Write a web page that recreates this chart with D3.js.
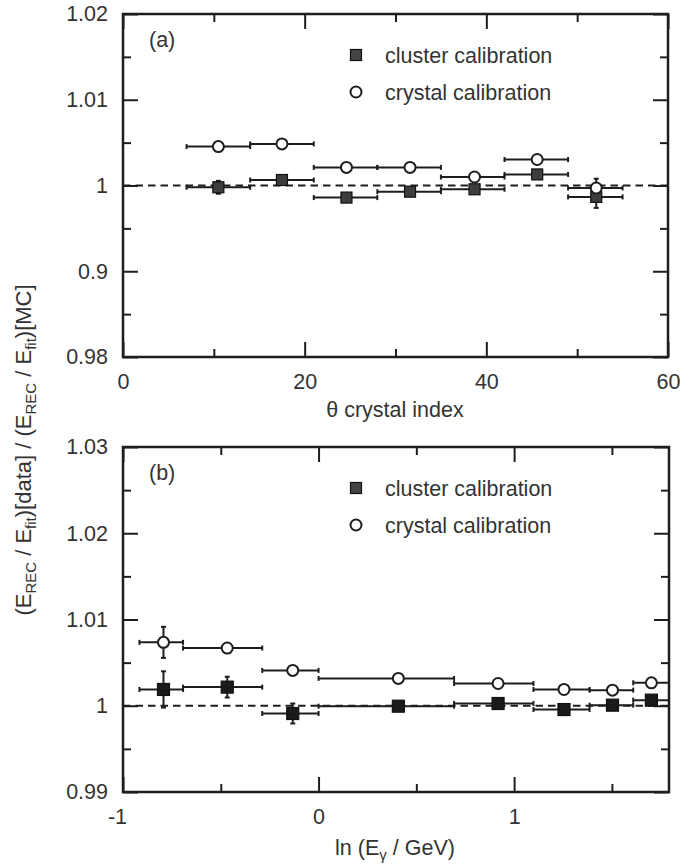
<!DOCTYPE html>
<html><head><meta charset="utf-8">
<script src="https://cdn.jsdelivr.net/npm/d3@7"></script>
<style>
body{margin:0;background:#fff}
text{font-family:"Liberation Sans",Arial,Helvetica,sans-serif;fill:#333}
</style></head><body>
<svg id="c" width="697" height="867"></svg>
<script>
// ---------- Panel (a): theta crystal index ----------
const thetaBinLo = [7, 14, 21, 28, 35, 42, 49];
const thetaBinHi = [14, 21, 28, 35, 42, 49, 55];
const thetaX     = [10.5, 17.5, 24.6, 31.6, 38.7, 45.6, 52.1];
const aCrystal    = [1.00454, 1.00485, 1.00211, 1.00211, 1.00099, 1.00303, 0.99971];
const aCrystalErr = [0.0003, 0.0003, 0.0003, 0.0003, 0.0003, 0.0003, 0.00108];
const aCluster    = [0.99979, 1.00064, 0.99859, 0.99928, 0.99956, 1.00129, 0.99867];
const aClusterErr = [0.00075, 0.0004, 0.0003, 0.0003, 0.0003, 0.0005, 0.00128];
const aXMajor = [0, 20, 40, 60];
const aXMinor = [10, 30, 50];
const aYMajor = [0.98, 0.99, 1.00, 1.01, 1.02];
const aYLabels = ["0.98", "0.9", "1", "1.01", "1.02"];
const aYMinor = [0.985, 0.995, 1.005, 1.015];

// ---------- Panel (b): ln(E_gamma / GeV) ----------
const lnBinLo = [-0.916, -0.693, -0.288, 0.000, 0.693, 1.099, 1.386, 1.609];
const lnBinHi = [-0.693, -0.288, 0.000, 0.693, 1.099, 1.386, 1.609, 1.792];
const lnX     = [-0.793, -0.467, -0.132, 0.408, 0.918, 1.255, 1.503, 1.702];
const bCrystal    = [1.00735, 1.00669, 1.00410, 1.00317, 1.00258, 1.00189, 1.00181, 1.00266];
const bCrystalErr = [0.0018, 0.0003, 0.0003, 0.0002, 0.0002, 0.0002, 0.0002, 0.0002];
const bCluster    = [1.00189, 1.00216, 0.99910, 0.99995, 1.00026, 0.99956, 1.00007, 1.00065];
const bClusterErr = [0.0021, 0.0012, 0.00116, 0.0002, 0.0002, 0.0002, 0.0002, 0.0002];
const bXMajor = [-1, 0, 1];
const bXLabels = ["-1", "0", "1"];
const bXMinor = [-0.5, 0.5, 1.5];
const bYMajor = [0.99, 1.00, 1.01, 1.02, 1.03];
const bYLabels = ["0.99", "1", "1.01", "1.02", "1.03"];
const bYMinor = [0.995, 1.005, 1.015, 1.025];

const legendLabels = ["cluster calibration", "crystal calibration"];

const svg = d3.select("#c");
const INK = "#1e1e1e";
const FS = 21.5;

function drawPanel(p) {
  const x = d3.scaleLinear().domain(p.xDomain).range([p.left, p.right]);
  const y = d3.scaleLinear().domain(p.yDomain).range([p.bottom, p.top]);
  const g = svg.append("g");
  const W = p.right - p.left, H = p.bottom - p.top;

  // dashed reference line at 1
  g.append("line")
    .attr("x1", p.left).attr("x2", p.right)
    .attr("y1", y(1)).attr("y2", y(1))
    .attr("stroke", INK).attr("stroke-width", 2)
    .attr("stroke-dasharray", "7.5,5");

  function axis(gen, tr, vals, size, fmt, pad) {
    const a = g.append("g").attr("transform", tr)
      .call(gen.tickValues(vals).tickSize(size).tickPadding(pad).tickFormat(fmt));
    a.select(".domain").remove();
    a.selectAll("line").attr("stroke", INK).attr("stroke-width", 2);
    a.selectAll("text").attr("font-size", FS).attr("fill", "#333")
      .attr("font-family", '"Liberation Sans",Arial,sans-serif');
    return a;
  }
  const none = () => "";
  const MJ = 15, MN = 8;
  // bottom
  const bx = axis(d3.axisBottom(x), `translate(0,${p.bottom})`, p.xMajor, -MJ, (d, i) => p.xLabels[i], 17);
  bx.selectAll("text").filter(d => d < 0).attr("dx", -6);
  axis(d3.axisBottom(x), `translate(0,${p.bottom})`, p.xMinor, -MN, none, 0);
  // top
  axis(d3.axisTop(x), `translate(0,${p.top})`, p.xMajor, -MJ, none, 0);
  axis(d3.axisTop(x), `translate(0,${p.top})`, p.xMinor, -MN, none, 0);
  // left
  axis(d3.axisLeft(y), `translate(${p.left},0)`, p.yMajor, -MJ, (d, i) => p.yLabels[i], 15);
  axis(d3.axisLeft(y), `translate(${p.left},0)`, p.yMinor, -MN, none, 0);
  // right
  axis(d3.axisRight(y), `translate(${p.right},0)`, p.yMajor, -MJ, none, 0);
  axis(d3.axisRight(y), `translate(${p.right},0)`, p.yMinor, -MN, none, 0);

  // frame
  g.append("rect").attr("x", p.left).attr("y", p.top).attr("width", W).attr("height", H)
    .attr("fill", "none").attr("stroke", INK).attr("stroke-width", 2.5);

  // error bars
  const cap = 2.5;
  function errBars(vals, errs) {
    const eg = g.append("g").attr("stroke", INK).attr("stroke-width", 2);
    vals.forEach((v, i) => {
      const xl = x(p.binLo[i]), xh = x(p.binHi[i]), yc = y(v), xc = x(p.xc[i]);
      eg.append("line").attr("x1", xl).attr("x2", xh).attr("y1", yc).attr("y2", yc);
      eg.append("line").attr("x1", xl).attr("x2", xl).attr("y1", yc - cap).attr("y2", yc + cap);
      eg.append("line").attr("x1", xh).attr("x2", xh).attr("y1", yc - cap).attr("y2", yc + cap);
      const yt = y(v + errs[i]), yb = y(v - errs[i]);
      eg.append("line").attr("x1", xc).attr("x2", xc).attr("y1", yt).attr("y2", yb);
      eg.append("line").attr("x1", xc - cap).attr("x2", xc + cap).attr("y1", yt).attr("y2", yt);
      eg.append("line").attr("x1", xc - cap).attr("x2", xc + cap).attr("y1", yb).attr("y2", yb);
    });
  }
  errBars(p.cluster, p.clusterErr);
  errBars(p.crystal, p.crystalErr);

  const S = p.sq;
  g.append("g").selectAll("rect").data(p.cluster).join("rect")
    .attr("x", (d, i) => x(p.xc[i]) - S / 2).attr("y", d => y(d) - S / 2)
    .attr("width", S).attr("height", S)
    .attr("fill", p.sqFill).attr("stroke", "#111").attr("stroke-width", 1.2);
  g.append("g").selectAll("circle").data(p.crystal).join("circle")
    .attr("cx", (d, i) => x(p.xc[i])).attr("cy", d => y(d)).attr("r", 5.5)
    .attr("fill", "#fff").attr("stroke", INK).attr("stroke-width", 2);

  // panel label
  g.append("text").attr("x", p.left + 26).attr("y", p.top + 33)
    .attr("font-size", FS).text(p.tag);

  // legend
  const lx = 356;
  g.append("rect").attr("x", lx - 5.5).attr("y", p.top + 41 - 5.5).attr("width", 11).attr("height", 11)
    .attr("fill", "#444").attr("stroke", "#111").attr("stroke-width", 1.2);
  g.append("text").attr("x", 385).attr("y", p.top + 41).attr("dy", "0.35em")
    .attr("font-size", FS).text(legendLabels[0]);
  g.append("circle").attr("cx", lx).attr("cy", p.top + 78).attr("r", 5.5)
    .attr("fill", "#fff").attr("stroke", INK).attr("stroke-width", 2);
  g.append("text").attr("x", 385).attr("y", p.top + 78).attr("dy", "0.35em")
    .attr("font-size", FS).text(legendLabels[1]);
}

drawPanel({
  left: 123, right: 668, top: 14, bottom: 357,
  xDomain: [0, 60], yDomain: [0.98, 1.02],
  xMajor: aXMajor, xLabels: aXMajor.map(String), xMinor: aXMinor,
  yMajor: aYMajor, yLabels: aYLabels, yMinor: aYMinor,
  binLo: thetaBinLo, binHi: thetaBinHi, xc: thetaX,
  crystal: aCrystal, crystalErr: aCrystalErr, cluster: aCluster, clusterErr: aClusterErr,
  sqFill: "#3d3d3d", sq: 11, tag: "(a)"
});
drawPanel({
  left: 123, right: 669, top: 447, bottom: 792,
  xDomain: [-1, 1.792], yDomain: [0.99, 1.03],
  xMajor: bXMajor, xLabels: bXLabels, xMinor: bXMinor,
  yMajor: bYMajor, yLabels: bYLabels, yMinor: bYMinor,
  binLo: lnBinLo, binHi: lnBinHi, xc: lnX,
  crystal: bCrystal, crystalErr: bCrystalErr, cluster: bCluster, clusterErr: bClusterErr,
  sqFill: "#1a1a1a", sq: 12, tag: "(b)"
});

// x-axis titles
const t1 = svg.append("text").attr("x", 395).attr("y", 417).attr("text-anchor", "middle").attr("font-size", FS);
t1.text("θ crystal index");
const t2 = svg.append("text").attr("x", 395).attr("y", 855).attr("text-anchor", "middle").attr("font-size", FS);
t2.append("tspan").text("ln (E");
t2.append("tspan").attr("font-size", 15).attr("dy", 5).text("γ");
t2.append("tspan").attr("dy", -5).text(" / GeV)");

// y-axis title
const yt = svg.append("text").attr("transform", "translate(31,450) rotate(-90)")
  .attr("text-anchor", "middle").attr("font-size", 22);
const parts = [["(E", 0], ["REC", 1], [" / E", 0], ["fit", 1], [")[data] / (E", 0], ["REC", 1], [" / E", 0], ["fit", 1], [")[MC]", 0]];
let prevSub = 0;
parts.forEach(([s, sub]) => {
  const ts = yt.append("tspan").text(s);
  const dy = (sub - prevSub) * 5;
  if (dy) ts.attr("dy", dy);
  if (sub) ts.attr("font-size", 15);
  prevSub = sub;
});
</script>
</body></html>
